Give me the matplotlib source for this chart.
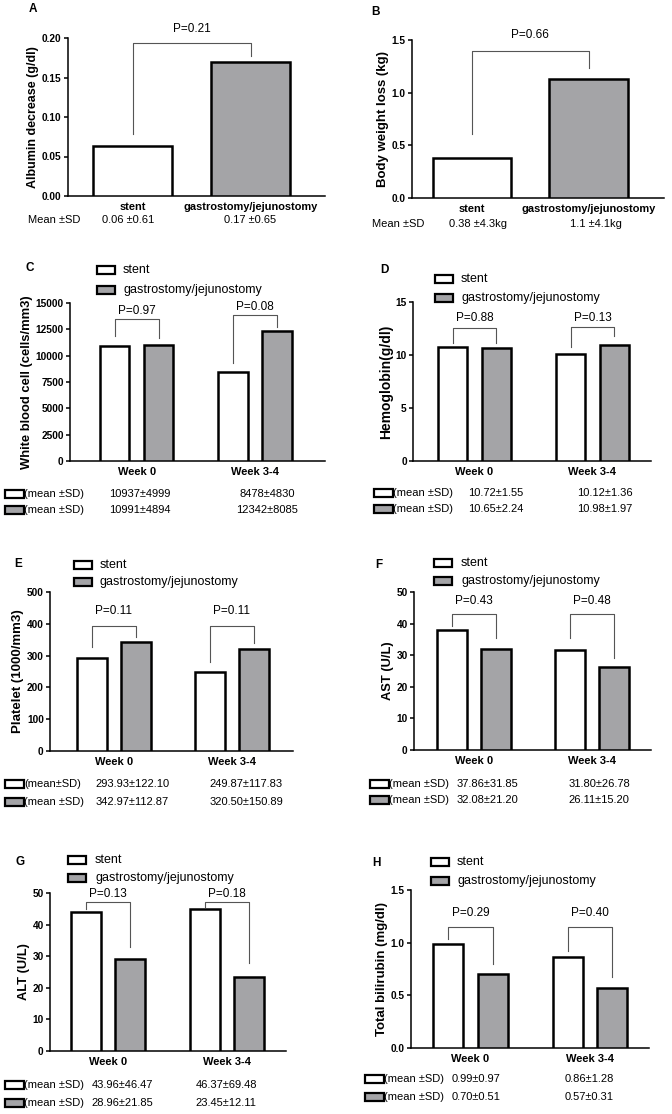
import numpy as np
import matplotlib
matplotlib.use('Agg')
import matplotlib.pyplot as plt
from matplotlib.patches import Rectangle
from matplotlib.transforms import Affine2D

plt.rcParams['font.family'] = ['Liberation Sans', 'DejaVu Sans']

W, H = 672, 1114

# ---- data ----
groups = ['stent', 'gastrostomy/jejunostomy']
weeks = ['Week 0', 'Week 3-4']

albumin = [0.063, 0.170]
albumin_txt = ['0.06 \u00b10.61', '0.17 \u00b10.65']
albumin_p = 'P=0.21'

weight = [0.38, 1.13]
weight_txt = ['0.38 \u00b14.3kg', '1.1 \u00b14.1kg']
weight_p = 'P=0.66'

wbc_stent = [10937, 8478]
wbc_gastro = [10991, 12342]
wbc_txt_stent = ['10937\u00b14999', '8478\u00b14830']
wbc_txt_gastro = ['10991\u00b14894', '12342\u00b18085']
wbc_p = ['P=0.97', 'P=0.08']

hb_stent = [10.72, 10.12]
hb_gastro = [10.65, 10.98]
hb_txt_stent = ['10.72\u00b11.55', '10.12\u00b11.36']
hb_txt_gastro = ['10.65\u00b12.24', '10.98\u00b11.97']
hb_p = ['P=0.88', 'P=0.13']

plt_stent = [293.93, 249.87]
plt_gastro = [342.97, 320.50]
plt_txt_stent = ['293.93\u00b1122.10', '249.87\u00b1117.83']
plt_txt_gastro = ['342.97\u00b1112.87', '320.50\u00b1150.89']
plt_p = ['P=0.11', 'P=0.11']

ast_stent = [37.86, 31.80]
ast_gastro = [32.08, 26.11]
ast_txt_stent = ['37.86\u00b131.85', '31.80\u00b126.78']
ast_txt_gastro = ['32.08\u00b121.20', '26.11\u00b115.20']
ast_p = ['P=0.43', 'P=0.48']

# bar heights as drawn in the figure (week 3-4 stent bar is drawn near 45)
alt_stent = [43.96, 45.0]
alt_gastro = [28.96, 23.45]
alt_txt_stent = ['43.96\u00b146.47', '46.37\u00b169.48']
alt_txt_gastro = ['28.96\u00b121.85', '23.45\u00b112.11']
alt_p = ['P=0.13', 'P=0.18']

bil_stent = [0.99, 0.86]
bil_gastro = [0.70, 0.57]
bil_txt_stent = ['0.99\u00b10.97', '0.86\u00b11.28']
bil_txt_gastro = ['0.70\u00b10.51', '0.57\u00b10.31']
bil_p = ['P=0.29', 'P=0.40']

GRAY = '#a4a4a7'
BAR_LW = 1.8

fig = plt.figure(figsize=(W / 100, H / 100), dpi=100)
px = Affine2D().scale(1 / W, -1 / H).translate(0, 1) + fig.transFigure


def add_ax(L, R, top, bottom):
    return fig.add_axes([L / W, 1 - bottom / H, (R - L) / W, (bottom - top) / H])


def style(ax, ylim, yticks, fmt, ylabel, xlim, lsize=9.3):
    ax.set_xlim(*xlim)
    ax.set_ylim(*ylim)
    ax.set_yticks(yticks)
    ax.set_yticklabels([fmt.format(t) for t in yticks], fontsize=7.3, fontweight='bold')
    for s in ['top', 'right']:
        ax.spines[s].set_visible(False)
    for s in ['left', 'bottom']:
        ax.spines[s].set_linewidth(1.1)
    ax.tick_params(axis='y', length=3, width=1.1, pad=1.5)
    ax.tick_params(axis='x', length=0, pad=4)
    ax.set_ylabel(ylabel, fontsize=lsize, fontweight='bold', labelpad=2)
    ax.patch.set_alpha(0)


def bracket(ax, x0, x1, ytop, yl, yr):
    ax.plot([x0, x0, x1, x1], [yl, ytop, ytop, yr], color='#555555', lw=0.8,
            clip_on=False, zorder=4)


def ptext(ax, x, y, label):
    ax.text(x, y, label, ha='center', va='center', fontsize=8.5, clip_on=False)


def box(x, y, w, fc):
    fig.add_artist(Rectangle((x, y - 4), w, 8, transform=px, facecolor=fc,
                             edgecolor='black', lw=1.6))


def txt(x, y, s, **kw):
    fig.text(x, y, s, transform=px, va='center', **kw)


# ---- panels A and B ----
single = [
    dict(vals=albumin, vtxt=albumin_txt, p=albumin_p, ylabel='Albumin decrease (g/dl)',
         rect=(68, 325, 38, 196), xlim=(-0.547, 1.631), ylim=(0, 0.20),
         ticks=[0, 0.05, 0.10, 0.15, 0.20], fmt='{:.2f}', letter=('A', 33, 9),
         br=(0.1937, 0.0785, 0.177, 0.211), mean_y=220, mean_x=28, val_x=(128, 250),
         lsize=9.0),
    dict(vals=weight, vtxt=weight_txt, p=weight_p, ylabel='Body weight loss (kg)',
         rect=(412, 664, 40, 198), xlim=(-0.515, 1.648), ylim=(0, 1.5),
         ticks=[0, 0.5, 1.0, 1.5], fmt='{:.1f}', letter=('B', 376, 12),
         br=(1.396, 0.608, 1.234, 1.548), mean_y=224, mean_x=372, val_x=(478, 596),
         lsize=9.5),
]

for d in single:
    ax = add_ax(*d['rect'])
    x = np.arange(len(groups))
    ax.bar(x, d['vals'], width=0.67, color=['white', GRAY], edgecolor='black',
           linewidth=BAR_LW, zorder=3)
    style(ax, d['ylim'], d['ticks'], d['fmt'], d['ylabel'], d['xlim'], d['lsize'])
    ax.set_xticks(x)
    ax.set_xticklabels(groups, fontsize=7.9, fontweight='bold')
    top, yl, yr, yt = d['br']
    bracket(ax, 0, 1, top, yl, yr)
    ptext(ax, 0.5, yt, d['p'])
    l, lx, ly = d['letter']
    txt(lx, ly, l, fontsize=8.5, fontweight='bold', ha='center')
    txt(d['mean_x'], d['mean_y'], 'Mean \u00b1SD', fontsize=8, ha='left')
    for vx, s in zip(d['val_x'], d['vtxt']):
        txt(vx, d['mean_y'], s, fontsize=8, ha='center')

# ---- grouped panels C-H ----
grouped = [
    dict(s=wbc_stent, g=wbc_gastro, ts=wbc_txt_stent, tg=wbc_txt_gastro, p=wbc_p,
         ylabel='White blood cell (cells/mm3)', rect=(70, 325, 303, 461),
         xlim=(-0.563, 1.591), ylim=(0, 15000), ticks=list(range(0, 15001, 2500)),
         fmt='{:d}', letter=('C', 30, 268), leg=(97, 270, 290, 123),
         br_top=[13481, 13861], br_l=[11867, 9304], br_r=[11677, 12722], br_t=[14241, 14620],
         tab_y=(494, 510), tab_box=5, tab_lbl=('(mean \u00b1SD)', '(mean \u00b1SD)'),
         val_x=(140, 267), lsize=9.4),
    dict(s=hb_stent, g=hb_gastro, ts=hb_txt_stent, tg=hb_txt_gastro, p=hb_p,
         ylabel='Hemoglobin(g/dl)', rect=(413, 651, 302, 461),
         xlim=(-0.521, 1.496), ylim=(0, 15), ticks=[0, 5, 10, 15],
         fmt='{:d}', letter=('D', 384, 270), leg=(435, 279, 298, 461),
         br_top=[12.55, 12.64], br_l=[11.13, 10.75], br_r=[11.13, 11.79], br_t=[13.49, 13.49],
         tab_y=(493, 509), tab_box=374, tab_lbl=('(mean \u00b1SD)', '(mean \u00b1SD)'),
         val_x=(496, 605), lsize=10.0),
    dict(s=plt_stent, g=plt_gastro, ts=plt_txt_stent, tg=plt_txt_gastro, p=plt_p,
         ylabel='Platelet (1000/mm3)', rect=(50, 293, 592, 751),
         xlim=(-0.542, 1.517), ylim=(0, 500), ticks=list(range(0, 501, 100)),
         fmt='{:d}', letter=('E', 18, 564), leg=(74, 565, 582, 100),
         br_top=[393, 393], br_l=[327, 280], br_r=[358, 340], br_t=[440, 440],
         tab_y=(784, 802), tab_box=5, tab_lbl=('(mean\u00b1SD)', '(mean \u00b1SD)'),
         val_x=(132, 246), lsize=9.5),
    dict(s=ast_stent, g=ast_gastro, ts=ast_txt_stent, tg=ast_txt_gastro, p=ast_p,
         ylabel='AST (U/L)', rect=(414, 651, 592, 750),
         xlim=(-0.508, 1.500), ylim=(0, 50), ticks=list(range(0, 51, 10)),
         fmt='{:d}', letter=('F', 379, 565), leg=(434, 563, 581, 461),
         br_top=[43.0, 43.0], br_l=[39.2, 35.4], br_r=[35.4, 29.1], br_t=[47.2, 47.2],
         tab_y=(784, 800), tab_box=370, tab_lbl=('(mean \u00b1SD)', '(mean \u00b1SD)'),
         val_x=(487, 599), lsize=9.3),
    dict(s=alt_stent, g=alt_gastro, ts=alt_txt_stent, tg=alt_txt_gastro, p=alt_p,
         ylabel='ALT (U/L)', rect=(50, 286, 893, 1051),
         xlim=(-0.487, 1.496), ylim=(0, 50), ticks=list(range(0, 51, 10)),
         fmt='{:d}', letter=('G', 20, 862), leg=(68, 860, 878, 95),
         br_top=[47.2, 47.2], br_l=[44.9, 45.6], br_r=[32.9, 27.8], br_t=[49.7, 49.7],
         tab_y=(1085, 1103), tab_box=5, tab_lbl=('(mean \u00b1SD)', '(mean \u00b1SD)'),
         val_x=(122, 226), lsize=9.3),
    dict(s=bil_stent, g=bil_gastro, ts=bil_txt_stent, tg=bil_txt_gastro, p=bil_p,
         ylabel='Total bilirubin (mg/dl)', rect=(411, 649, 890, 1048),
         xlim=(-0.498, 1.494), ylim=(0, 1.5), ticks=[0, 0.5, 1.0, 1.5],
         fmt='{:.1f}', letter=('H', 376, 863), leg=(431, 862, 881, 457),
         br_top=[1.149, 1.149], br_l=[1.035, 0.921], br_r=[0.797, 0.674], br_t=[1.282, 1.282],
         tab_y=(1079, 1097), tab_box=365, tab_lbl=('(mean \u00b1SD)', '(mean \u00b1SD)'),
         val_x=(476, 589), lsize=9.5),
]

off, bw = 0.186, 0.25
for d in grouped:
    ax = add_ax(*d['rect'])
    x = np.arange(len(weeks))
    ax.bar(x - off, d['s'], width=bw, color='white', edgecolor='black', linewidth=BAR_LW, zorder=3)
    ax.bar(x + off, d['g'], width=bw, color=GRAY, edgecolor='black', linewidth=BAR_LW, zorder=3)
    style(ax, d['ylim'], d['ticks'], d['fmt'], d['ylabel'], d['xlim'], d['lsize'])
    ax.set_xticks(x)
    ax.set_xticklabels(weeks, fontsize=8, fontweight='bold')
    for i in range(len(weeks)):
        bracket(ax, i - off, i + off, d['br_top'][i], d['br_l'][i], d['br_r'][i])
        ptext(ax, i, d['br_t'][i], d['p'][i])
    l, lx, ly = d['letter']
    txt(lx, ly, l, fontsize=8.5, fontweight='bold', ha='center')
    bx, y1, y2, tx = d['leg']
    for yy, fc, s in zip((y1, y2), ('white', GRAY), groups):
        box(bx, yy, 18, fc)
        txt(tx, yy, s, fontsize=9, ha='left')
    for yy, fc, lbl, vals in zip(d['tab_y'], ('white', GRAY), d['tab_lbl'], (d['ts'], d['tg'])):
        box(d['tab_box'], yy, 19, fc)
        txt(d['tab_box'] + 19, yy, lbl, fontsize=8, ha='left')
        for vx, s in zip(d['val_x'], vals):
            txt(vx, yy, s, fontsize=8, ha='center')

fig.savefig('out.png', dpi=100)
